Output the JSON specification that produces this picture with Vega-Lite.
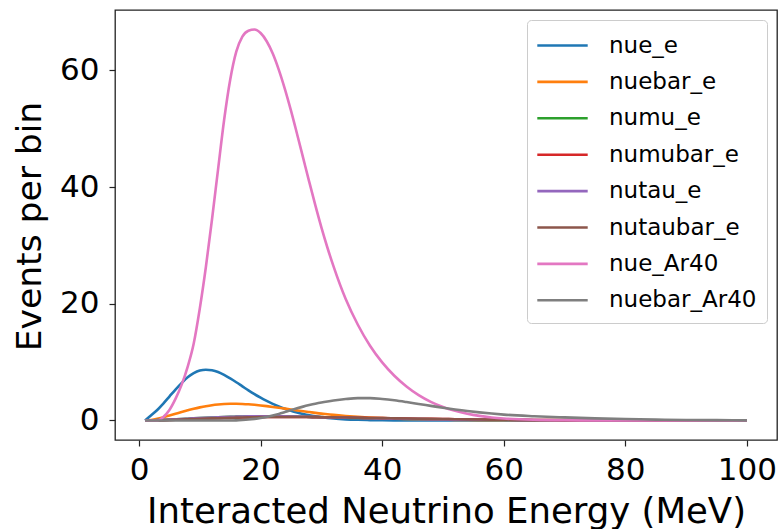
{
  "$schema": "https://vega.github.io/schema/vega-lite/v6.json",
  "width": 662,
  "height": 430,
  "autosize": {"type": "none"},
  "padding": {"left": 115, "top": 10, "right": 7, "bottom": 89},
  "background": "white",
  "config": {
    "font": "DejaVu Sans",
    "view": {"stroke": "#222222", "strokeWidth": 1.3},
    "axis": {"grid": false, "domain": false, "labelFont": "DejaVu Sans", "titleFont": "DejaVu Sans", "labelColor": "#000000", "titleColor": "#000000", "titleFontWeight": "normal", "tickColor": "#222222", "tickWidth": 1.2, "tickSize": 6}
  },
  "data": {
    "values": [
      {"E":1,"nue_e":0,"nuebar_e":0,"numu_e":0,"numubar_e":0,"nutau_e":0,"nutaubar_e":0,"nue_Ar40":0,"nuebar_Ar40":0},
      {"E":2,"nue_e":0.9,"nuebar_e":0.08,"numu_e":0.02,"numubar_e":0.01,"nutau_e":0.02,"nutaubar_e":0.01,"nue_Ar40":0,"nuebar_Ar40":0},
      {"E":3,"nue_e":1.8,"nuebar_e":0.28,"numu_e":0.05,"numubar_e":0.03,"nutau_e":0.05,"nutaubar_e":0.03,"nue_Ar40":0,"nuebar_Ar40":0},
      {"E":4,"nue_e":2.9,"nuebar_e":0.55,"numu_e":0.09,"numubar_e":0.05,"nutau_e":0.09,"nutaubar_e":0.05,"nue_Ar40":0.6,"nuebar_Ar40":0},
      {"E":5,"nue_e":4.1,"nuebar_e":0.85,"numu_e":0.14,"numubar_e":0.08,"nutau_e":0.14,"nutaubar_e":0.08,"nue_Ar40":1.8,"nuebar_Ar40":0},
      {"E":6,"nue_e":5.3,"nuebar_e":1.15,"numu_e":0.19,"numubar_e":0.11,"nutau_e":0.19,"nutaubar_e":0.11,"nue_Ar40":3.7,"nuebar_Ar40":0},
      {"E":7,"nue_e":6.4,"nuebar_e":1.45,"numu_e":0.24,"numubar_e":0.15,"nutau_e":0.24,"nutaubar_e":0.15,"nue_Ar40":6.1,"nuebar_Ar40":0},
      {"E":8,"nue_e":7.4,"nuebar_e":1.73,"numu_e":0.3,"numubar_e":0.19,"nutau_e":0.3,"nutaubar_e":0.19,"nue_Ar40":9.2,"nuebar_Ar40":0},
      {"E":9,"nue_e":8.1,"nuebar_e":2.0,"numu_e":0.35,"numubar_e":0.23,"nutau_e":0.35,"nutaubar_e":0.23,"nue_Ar40":13.2,"nuebar_Ar40":0},
      {"E":10,"nue_e":8.55,"nuebar_e":2.24,"numu_e":0.4,"numubar_e":0.27,"nutau_e":0.4,"nutaubar_e":0.27,"nue_Ar40":19.2,"nuebar_Ar40":0},
      {"E":11,"nue_e":8.7,"nuebar_e":2.45,"numu_e":0.45,"numubar_e":0.31,"nutau_e":0.45,"nutaubar_e":0.31,"nue_Ar40":26.3,"nuebar_Ar40":0},
      {"E":12,"nue_e":8.6,"nuebar_e":2.62,"numu_e":0.5,"numubar_e":0.35,"nutau_e":0.5,"nutaubar_e":0.35,"nue_Ar40":34.4,"nuebar_Ar40":0},
      {"E":13,"nue_e":8.3,"nuebar_e":2.74,"numu_e":0.54,"numubar_e":0.39,"nutau_e":0.54,"nutaubar_e":0.39,"nue_Ar40":43.0,"nuebar_Ar40":0},
      {"E":14,"nue_e":7.8,"nuebar_e":2.82,"numu_e":0.58,"numubar_e":0.42,"nutau_e":0.58,"nutaubar_e":0.42,"nue_Ar40":51.5,"nuebar_Ar40":0},
      {"E":15,"nue_e":7.2,"nuebar_e":2.86,"numu_e":0.62,"numubar_e":0.45,"nutau_e":0.62,"nutaubar_e":0.45,"nue_Ar40":58.4,"nuebar_Ar40":0},
      {"E":16,"nue_e":6.55,"nuebar_e":2.86,"numu_e":0.65,"numubar_e":0.48,"nutau_e":0.65,"nutaubar_e":0.48,"nue_Ar40":63.2,"nuebar_Ar40":0.02},
      {"E":17,"nue_e":5.85,"nuebar_e":2.83,"numu_e":0.68,"numubar_e":0.51,"nutau_e":0.68,"nutaubar_e":0.51,"nue_Ar40":65.8,"nuebar_Ar40":0.08},
      {"E":18,"nue_e":5.15,"nuebar_e":2.77,"numu_e":0.7,"numubar_e":0.53,"nutau_e":0.7,"nutaubar_e":0.53,"nue_Ar40":66.8,"nuebar_Ar40":0.16},
      {"E":19,"nue_e":4.5,"nuebar_e":2.68,"numu_e":0.71,"numubar_e":0.55,"nutau_e":0.71,"nutaubar_e":0.55,"nue_Ar40":67.0,"nuebar_Ar40":0.27},
      {"E":20,"nue_e":3.9,"nuebar_e":2.57,"numu_e":0.72,"numubar_e":0.57,"nutau_e":0.72,"nutaubar_e":0.57,"nue_Ar40":66.4,"nuebar_Ar40":0.41},
      {"E":21,"nue_e":3.35,"nuebar_e":2.45,"numu_e":0.72,"numubar_e":0.58,"nutau_e":0.72,"nutaubar_e":0.58,"nue_Ar40":65.0,"nuebar_Ar40":0.6},
      {"E":22,"nue_e":2.85,"nuebar_e":2.32,"numu_e":0.72,"numubar_e":0.59,"nutau_e":0.72,"nutaubar_e":0.59,"nue_Ar40":62.9,"nuebar_Ar40":0.84},
      {"E":23,"nue_e":2.4,"nuebar_e":2.18,"numu_e":0.71,"numubar_e":0.6,"nutau_e":0.71,"nutaubar_e":0.6,"nue_Ar40":60.1,"nuebar_Ar40":1.12},
      {"E":24,"nue_e":2.0,"nuebar_e":2.03,"numu_e":0.7,"numubar_e":0.6,"nutau_e":0.7,"nutaubar_e":0.6,"nue_Ar40":56.8,"nuebar_Ar40":1.44},
      {"E":25,"nue_e":1.65,"nuebar_e":1.88,"numu_e":0.68,"numubar_e":0.6,"nutau_e":0.68,"nutaubar_e":0.6,"nue_Ar40":53.1,"nuebar_Ar40":1.77},
      {"E":26,"nue_e":1.35,"nuebar_e":1.73,"numu_e":0.66,"numubar_e":0.6,"nutau_e":0.66,"nutaubar_e":0.6,"nue_Ar40":49.1,"nuebar_Ar40":2.08},
      {"E":27,"nue_e":1.1,"nuebar_e":1.58,"numu_e":0.64,"numubar_e":0.59,"nutau_e":0.64,"nutaubar_e":0.59,"nue_Ar40":45.0,"nuebar_Ar40":2.37},
      {"E":28,"nue_e":0.88,"nuebar_e":1.44,"numu_e":0.62,"numubar_e":0.58,"nutau_e":0.62,"nutaubar_e":0.58,"nue_Ar40":40.9,"nuebar_Ar40":2.63},
      {"E":29,"nue_e":0.7,"nuebar_e":1.3,"numu_e":0.6,"numubar_e":0.57,"nutau_e":0.6,"nutaubar_e":0.57,"nue_Ar40":36.9,"nuebar_Ar40":2.87},
      {"E":30,"nue_e":0.55,"nuebar_e":1.17,"numu_e":0.57,"numubar_e":0.56,"nutau_e":0.57,"nutaubar_e":0.56,"nue_Ar40":33.1,"nuebar_Ar40":3.08},
      {"E":31,"nue_e":0.43,"nuebar_e":1.06,"numu_e":0.55,"numubar_e":0.545,"nutau_e":0.55,"nutaubar_e":0.545,"nue_Ar40":29.6,"nuebar_Ar40":3.26},
      {"E":32,"nue_e":0.33,"nuebar_e":0.95,"numu_e":0.52,"numubar_e":0.53,"nutau_e":0.52,"nutaubar_e":0.53,"nue_Ar40":26.4,"nuebar_Ar40":3.42},
      {"E":34,"nue_e":0.19,"nuebar_e":0.77,"numu_e":0.47,"numubar_e":0.5,"nutau_e":0.47,"nutaubar_e":0.5,"nue_Ar40":20.8,"nuebar_Ar40":3.67},
      {"E":36,"nue_e":0.11,"nuebar_e":0.62,"numu_e":0.42,"numubar_e":0.47,"nutau_e":0.42,"nutaubar_e":0.47,"nue_Ar40":16.4,"nuebar_Ar40":3.82},
      {"E":38,"nue_e":0.06,"nuebar_e":0.5,"numu_e":0.37,"numubar_e":0.43,"nutau_e":0.37,"nutaubar_e":0.43,"nue_Ar40":12.8,"nuebar_Ar40":3.82},
      {"E":40,"nue_e":0.035,"nuebar_e":0.4,"numu_e":0.33,"numubar_e":0.4,"nutau_e":0.33,"nutaubar_e":0.4,"nue_Ar40":9.95,"nuebar_Ar40":3.68},
      {"E":42,"nue_e":0.02,"nuebar_e":0.32,"numu_e":0.29,"numubar_e":0.36,"nutau_e":0.29,"nutaubar_e":0.36,"nue_Ar40":7.67,"nuebar_Ar40":3.45},
      {"E":44,"nue_e":0.01,"nuebar_e":0.25,"numu_e":0.25,"numubar_e":0.33,"nutau_e":0.25,"nutaubar_e":0.33,"nue_Ar40":5.83,"nuebar_Ar40":3.15},
      {"E":46,"nue_e":0,"nuebar_e":0.2,"numu_e":0.22,"numubar_e":0.3,"nutau_e":0.22,"nutaubar_e":0.3,"nue_Ar40":4.35,"nuebar_Ar40":2.82},
      {"E":48,"nue_e":0,"nuebar_e":0.16,"numu_e":0.19,"numubar_e":0.27,"nutau_e":0.19,"nutaubar_e":0.27,"nue_Ar40":3.19,"nuebar_Ar40":2.5},
      {"E":50,"nue_e":0,"nuebar_e":0.12,"numu_e":0.16,"numubar_e":0.24,"nutau_e":0.16,"nutaubar_e":0.24,"nue_Ar40":2.31,"nuebar_Ar40":2.18},
      {"E":52,"nue_e":0,"nuebar_e":0.1,"numu_e":0.14,"numubar_e":0.21,"nutau_e":0.14,"nutaubar_e":0.21,"nue_Ar40":1.65,"nuebar_Ar40":1.88},
      {"E":54,"nue_e":0,"nuebar_e":0.08,"numu_e":0.12,"numubar_e":0.19,"nutau_e":0.12,"nutaubar_e":0.19,"nue_Ar40":1.15,"nuebar_Ar40":1.61},
      {"E":56,"nue_e":0,"nuebar_e":0.06,"numu_e":0.1,"numubar_e":0.17,"nutau_e":0.1,"nutaubar_e":0.17,"nue_Ar40":0.78,"nuebar_Ar40":1.38},
      {"E":58,"nue_e":0,"nuebar_e":0.05,"numu_e":0.08,"numubar_e":0.15,"nutau_e":0.08,"nutaubar_e":0.15,"nue_Ar40":0.52,"nuebar_Ar40":1.18},
      {"E":60,"nue_e":0,"nuebar_e":0.04,"numu_e":0.07,"numubar_e":0.13,"nutau_e":0.07,"nutaubar_e":0.13,"nue_Ar40":0.34,"nuebar_Ar40":1.0},
      {"E":65,"nue_e":0,"nuebar_e":0.02,"numu_e":0.045,"numubar_e":0.09,"nutau_e":0.045,"nutaubar_e":0.09,"nue_Ar40":0.11,"nuebar_Ar40":0.72},
      {"E":70,"nue_e":0,"nuebar_e":0.01,"numu_e":0.03,"numubar_e":0.06,"nutau_e":0.03,"nutaubar_e":0.06,"nue_Ar40":0.03,"nuebar_Ar40":0.52},
      {"E":75,"nue_e":0,"nuebar_e":0,"numu_e":0.02,"numubar_e":0.04,"nutau_e":0.02,"nutaubar_e":0.04,"nue_Ar40":0.01,"nuebar_Ar40":0.36},
      {"E":80,"nue_e":0,"nuebar_e":0,"numu_e":0.01,"numubar_e":0.025,"nutau_e":0.01,"nutaubar_e":0.025,"nue_Ar40":0,"nuebar_Ar40":0.24},
      {"E":85,"nue_e":0,"nuebar_e":0,"numu_e":0.005,"numubar_e":0.015,"nutau_e":0.005,"nutaubar_e":0.015,"nue_Ar40":0,"nuebar_Ar40":0.15},
      {"E":90,"nue_e":0,"nuebar_e":0,"numu_e":0,"numubar_e":0.01,"nutau_e":0,"nutaubar_e":0.01,"nue_Ar40":0,"nuebar_Ar40":0.09},
      {"E":95,"nue_e":0,"nuebar_e":0,"numu_e":0,"numubar_e":0.005,"nutau_e":0,"nutaubar_e":0.005,"nue_Ar40":0,"nuebar_Ar40":0.05},
      {"E":100,"nue_e":0,"nuebar_e":0,"numu_e":0,"numubar_e":0,"nutau_e":0,"nutaubar_e":0,"nue_Ar40":0,"nuebar_Ar40":0.02}
    ]
  },
  "transform": [
    {"fold": ["nue_e","nuebar_e","numu_e","numubar_e","nutau_e","nutaubar_e","nue_Ar40","nuebar_Ar40"], "as": ["series","events"]}
  ],
  "mark": {"type": "line", "strokeWidth": 2.6, "interpolate": "monotone", "clip": true},
  "encoding": {
    "x": {
      "field": "E", "type": "quantitative",
      "scale": {"domain": [-3.95, 104.95], "nice": false, "zero": false},
      "axis": {"values": [0,20,40,60,80,100], "labelFontSize": 31, "labelPadding": 9, "title": "Interacted Neutrino Energy (MeV)", "titleFontSize": 35.5, "titleBaseline": "alphabetic", "titleY": 82, "titleX": 331}
    },
    "y": {
      "field": "events", "type": "quantitative",
      "scale": {"domain": [-3.35, 70.35], "nice": false, "zero": false},
      "axis": {"values": [0,20,40,60], "labelFontSize": 31, "labelPadding": 10, "title": "Events per bin", "titleFontSize": 34.5, "titleBaseline": "alphabetic", "titleAngle": -90, "titleX": -75, "titleY": 216, "titleAlign": "center"}
    },
    "color": {
      "field": "series", "type": "nominal",
      "scale": {
        "domain": ["nue_e","nuebar_e","numu_e","numubar_e","nutau_e","nutaubar_e","nue_Ar40","nuebar_Ar40"],
        "range": ["#1f77b4","#ff7f0e","#2ca02c","#d62728","#9467bd","#8c564b","#e377c2","#7f7f7f"]
      },
      "legend": {
        "title": null,
        "orient": "top-right",
        "offset": 10,
        "padding": 10,
        "fillColor": "rgba(255,255,255,0.8)",
        "strokeColor": "#cccccc",
        "cornerRadius": 4,
        "symbolType": "M-1.8,0H1.8",
        "symbolSize": 784,
        "symbolOffset": 10,
        "symbolStrokeWidth": 2.6,
        "labelFontSize": 23,
        "labelFont": "DejaVu Sans",
        "labelColor": "#000000",
        "labelOffset": 31,
        "rowPadding": 8.4
      }
    }
  }
}
